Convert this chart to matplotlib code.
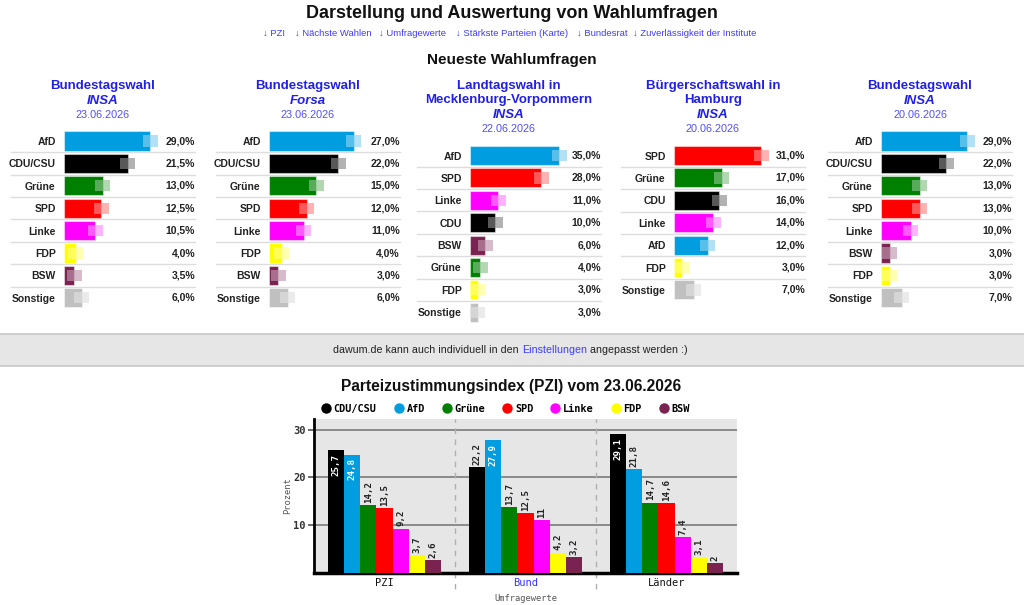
import matplotlib
matplotlib.use("Agg")
import matplotlib.pyplot as plt
from matplotlib.lines import Line2D
from matplotlib.patches import Rectangle
from matplotlib.transforms import blended_transform_factory
from matplotlib.font_manager import FontProperties
import numpy as np

W, H = 1024, 605
SANS = ["Liberation Sans", "DejaVu Sans"]
MONO = "DejaVu Sans Mono"

party_colors = {
    "AfD": "#009ee0", "CDU/CSU": "#000000", "CDU": "#000000",
    "Grüne": "#008000", "SPD": "#ff0000", "Linke": "#ff00ff",
    "FDP": "#ffff00", "BSW": "#7a2350", "Sonstige": "#c0c0c0",
}

# neueste Wahlumfragen
poll_titles = [
    ["Bundestagswahl", "INSA"],
    ["Bundestagswahl", "Forsa"],
    ["Landtagswahl in", "Mecklenburg-Vorpommern", "INSA"],
    ["Bürgerschaftswahl in", "Hamburg", "INSA"],
    ["Bundestagswahl", "INSA"],
]
poll_dates = ["23.06.2026", "23.06.2026", "22.06.2026", "20.06.2026", "20.06.2026"]

poll1_parties = ["AfD", "CDU/CSU", "Grüne", "SPD", "Linke", "FDP", "BSW", "Sonstige"]
poll1_values = [29.0, 21.5, 13.0, 12.5, 10.5, 4.0, 3.5, 6.0]
poll2_parties = ["AfD", "CDU/CSU", "Grüne", "SPD", "Linke", "FDP", "BSW", "Sonstige"]
poll2_values = [27.0, 22.0, 15.0, 12.0, 11.0, 4.0, 3.0, 6.0]
poll3_parties = ["AfD", "SPD", "Linke", "CDU", "BSW", "Grüne", "FDP", "Sonstige"]
poll3_values = [35.0, 28.0, 11.0, 10.0, 6.0, 4.0, 3.0, 3.0]
poll4_parties = ["SPD", "Grüne", "CDU", "Linke", "AfD", "FDP", "Sonstige"]
poll4_values = [31.0, 17.0, 16.0, 14.0, 12.0, 3.0, 7.0]
poll5_parties = ["AfD", "CDU/CSU", "Grüne", "SPD", "Linke", "BSW", "FDP", "Sonstige"]
poll5_values = [29.0, 22.0, 13.0, 13.0, 10.0, 3.0, 3.0, 7.0]

# PZI
pzi_groups = ["PZI", "Bund", "Länder"]
pzi_parties = ["CDU/CSU", "AfD", "Grüne", "SPD", "Linke", "FDP", "BSW"]
pzi_values = [25.7, 24.8, 14.2, 13.5, 9.2, 3.7, 2.6]
bund_values = [22.2, 27.9, 13.7, 12.5, 11.0, 4.2, 3.2]
laender_values = [29.1, 21.8, 14.7, 14.6, 7.4, 3.1, 2.0]

links = ["↓ PZI", "↓ Nächste Wahlen", "↓ Umfragewerte",
         "↓ Stärkste Parteien (Karte)", "↓ Bundesrat",
         "↓ Zuverlässigkeit der Institute"]

fig = plt.figure(figsize=(W / 100, H / 100), dpi=100)
fig.patch.set_facecolor("white")


def fx(x):
    return x / W


def fy(y):
    return 1 - y / H


def px_axes(x, y, w, h):
    return fig.add_axes([x / W, 1 - (y + h) / H, w / W, h / H])


# page header
fig.text(fx(512), fy(14), "Darstellung und Auswertung von Wahlumfragen",
         ha="center", va="center", family=SANS, weight="bold", size=13, color="#111")
link_x = [263, 295, 379, 456, 577, 633]
for lx, txt in zip(link_x, links):
    fig.text(fx(lx), fy(33), txt, ha="left", va="center", family=SANS,
             size=6.8, color="#3c3cff")
fig.text(fx(512), fy(60), "Neueste Wahlumfragen", ha="center", va="center",
         family=SANS, weight="bold", size=11, color="#111")

# poll panels
polls = [(poll1_parties, poll1_values), (poll2_parties, poll2_values),
         (poll3_parties, poll3_values), (poll4_parties, poll4_values),
         (poll5_parties, poll5_values)]
bar_starts = [64, 269, 470, 674, 881]
ROW = 22.4
AREA = 107

for i, (names, vals) in enumerate(polls):
    n = len(vals)
    x0 = bar_starts[i]
    lines = poll_titles[i]
    # title block
    ty = 86
    for j, line in enumerate(lines):
        style = "italic" if j == len(lines) - 1 else "normal"
        fig.text(fx(x0 + 39), fy(ty), line, ha="center", va="center", family=SANS,
                 weight="bold", style=style, size=9.5, color="#2020e6")
        ty += 14.5
    fig.text(fx(x0 + 39), fy(ty), poll_dates[i], ha="center", va="center",
             family=SANS, size=7.8, color="#5050ff")
    first_row = ty + 26

    ax = px_axes(x0, first_row - ROW / 2, AREA, n * ROW)
    xmax = max(vals) + 7
    ypos = np.arange(n)
    cols = [party_colors[p] for p in names]
    ax.barh(ypos, vals, height=0.85, color=cols, zorder=2,
            edgecolor=(1, 1, 1, 0.45), linewidth=0.8)
    box_w = 15 * xmax / AREA
    left = np.array(vals) - box_w / 2
    ax.barh(ypos, box_w, left=left, height=0.5, color="white", alpha=0.5, zorder=3)
    ax.barh(ypos, box_w, left=left, height=0.5, color=cols, alpha=0.3, zorder=4)
    ax.set_xlim(0, xmax)
    ax.set_ylim(n - 0.5, -0.5)
    ax.patch.set_visible(False)
    for s in ax.spines.values():
        s.set_visible(False)
    ax.set_xticks([])
    ax.set_yticks(ypos, names)
    ax.tick_params(axis="y", length=0, pad=6)
    for lab in ax.get_yticklabels():
        lab.set_fontfamily(SANS)
        lab.set_fontweight("bold")
        lab.set_fontsize(7.5)
        lab.set_color("#222")
    trans = blended_transform_factory(ax.transAxes, ax.transData)
    for y, v in zip(ypos, vals):
        ax.text(131 / AREA, y, f"{v:.1f}".replace(".", ",") + "%", transform=trans,
                ha="right", va="center", family=SANS, weight="bold", size=7.5,
                color="#222")
    for y in ypos[:-1] + 0.5:
        ax.plot([-53 / AREA, 131 / AREA], [y, y], transform=trans, color="#dddddd",
                lw=1, clip_on=False, zorder=0)

# settings banner
fig.add_artist(Rectangle((0, fy(366)), 1, 32 / H, transform=fig.transFigure,
                         facecolor="#e6e6e6", edgecolor="none"))
for by in (334, 366):
    fig.add_artist(Line2D([0, 1], [fy(by), fy(by)], transform=fig.transFigure,
                          color="#c8c8c8", lw=1.2))
fig.text(fx(519), fy(350), "dawum.de kann auch individuell in den", ha="right",
         va="center", family=SANS, size=7.7, color="#222")
fig.text(fx(522), fy(350), "Einstellungen", ha="left", va="center", family=SANS,
         size=7.7, color="#3c3cff")
fig.text(fx(590), fy(350), "angepasst werden :)", ha="left", va="center",
         family=SANS, size=7.7, color="#222")

# PZI chart
fig.text(fx(511), fy(386), "Parteizustimmungsindex (PZI) vom 23.06.2026",
         ha="center", va="center", family=SANS, weight="bold", size=11.2, color="#111")

ax = px_axes(314, 419, 423, 153.5)
ax.set_facecolor("#e6e6e6")
group_vals = [pzi_values, bund_values, laender_values]
nparty = len(pzi_parties)
bw = 0.8 / nparty
xg = np.arange(len(pzi_groups))
for k, party in enumerate(pzi_parties):
    vals = [g[k] for g in group_vals]
    xs = xg + (k - (nparty - 1) / 2) * bw
    ax.bar(xs, vals, width=bw, color=party_colors[party], zorder=3, linewidth=0)
    for x, v in zip(xs, vals):
        lab = f"{v:g}".replace(".", ",")
        if v > 23:
            ax.text(x, v - 0.8, lab, rotation=90, ha="center", va="top", color="white",
                    family=MONO, weight="bold", size=6.6, zorder=4)
        else:
            ax.text(x, v + 0.5, lab, rotation=90, ha="center", va="bottom",
                    color="#222", family=MONO, weight="bold", size=6.6, zorder=4)

ax.set_xlim(-0.5, len(pzi_groups) - 0.5)
ax.set_ylim(0, 32.3)
ax.set_yticks([10, 20, 30])
ax.yaxis.grid(True, color="#8a8a8a", lw=1.4)
ax.set_axisbelow(True)
for xb in xg[:-1] + 0.5:
    ax.axvline(xb, ymin=-0.11, ymax=1, color="#b0b0b0", ls=(0, (4, 4)), lw=1,
               clip_on=False, zorder=1)
for s in ("top", "right"):
    ax.spines[s].set_visible(False)
ax.spines["left"].set_linewidth(2)
ax.spines["bottom"].set_linewidth(2.5)
ax.tick_params(axis="y", length=4, width=1.2, color="#555", pad=2)
for lab in ax.get_yticklabels():
    lab.set_fontfamily(MONO)
    lab.set_fontweight("bold")
    lab.set_fontsize(7.5)
    lab.set_color("#333")
ax.set_xticks(xg, pzi_groups)
ax.tick_params(axis="x", length=0, pad=4)
for lab in ax.get_xticklabels():
    lab.set_fontfamily(MONO)
    lab.set_fontsize(7.5)
    lab.set_color("#3333ff" if lab.get_text() == "Bund" else "#111")
ax.set_xlabel("Umfragewerte", family=MONO, size=6.3, color="#555", labelpad=4)
ax.set_ylabel("Prozent", family=MONO, size=6.3, color="#555", labelpad=1)

handles = [Line2D([], [], ls="none", marker="o", markersize=7.5,
                  markerfacecolor=party_colors[p], markeredgecolor="none")
           for p in pzi_parties]
fig.legend(handles, pzi_parties, loc="center", bbox_to_anchor=(fx(506), fy(409)),
           ncol=nparty, frameon=False, handlelength=0.8, handletextpad=0.35,
           columnspacing=1.75, borderpad=0,
           prop=FontProperties(family=MONO, weight="bold", size=7.4))

fig.savefig("out.png", dpi=100)
